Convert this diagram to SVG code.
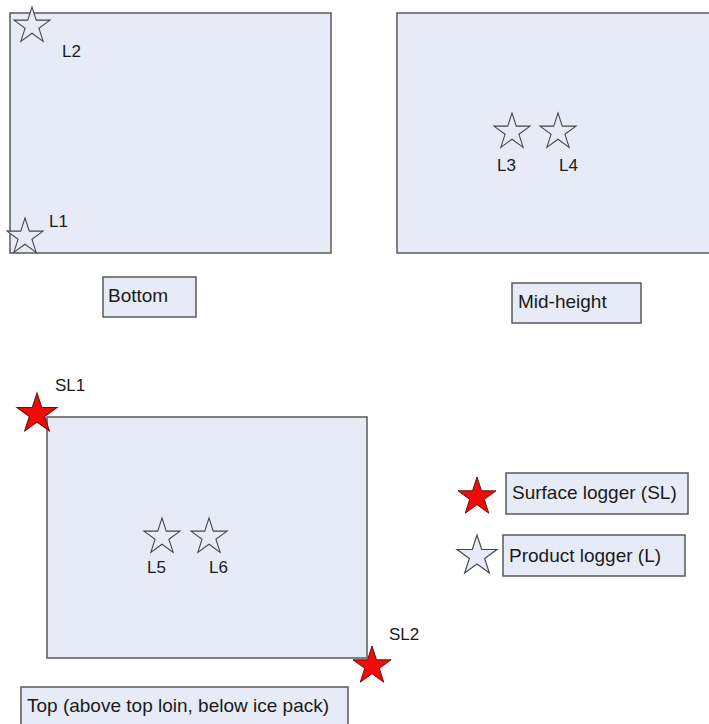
<svg xmlns="http://www.w3.org/2000/svg" xmlns:xlink="http://www.w3.org/1999/xlink" width="709" height="724" viewBox="0 0 709 724">
<style>
.panel{fill:#E7EBF7;stroke:#5a5a5a;stroke-width:1.5}
.box{fill:#E7EBF7;stroke:#5a5a5a;stroke-width:1.5}
.wstar{fill:#E7EBF7;stroke:#454545;stroke-width:1.1}
.rstar{fill:#F00A0A;stroke:#6a1010;stroke-width:1}
.lbl{font-family:"Liberation Sans",Arial,sans-serif;font-size:17px;fill:#1a1a1a}
.txt{font-family:"Liberation Sans",Arial,sans-serif;font-size:19px;fill:#1a1a1a}
</style>
<defs>
<polygon id="star" points="0,-20 4.49,-6.18 19.02,-6.18 7.27,2.36 11.76,16.18 0,7.64 -11.76,16.18 -7.27,2.36 -19.02,-6.18 -4.49,-6.18"/>
</defs>
<g id="panel-bottom">
<rect class="panel" x="10" y="13" width="321" height="240"/>
<use href="#star" class="wstar" transform="translate(32,26) scale(0.95)"/>
<text class="lbl" x="62" y="57">L2</text>
<use href="#star" class="wstar" transform="translate(25,237) scale(0.95)"/>
<text class="lbl" x="49" y="227">L1</text>
</g>
<g id="panel-mid">
<rect class="panel" x="397" y="13" width="315" height="240"/>
<use href="#star" class="wstar" transform="translate(512,132) scale(0.95)"/>
<use href="#star" class="wstar" transform="translate(558,132) scale(0.95)"/>
<text class="lbl" x="497" y="171">L3</text>
<text class="lbl" x="559" y="171">L4</text>
</g>
<g id="label-bottom">
<rect class="box" x="103" y="277" width="93" height="40"/>
<text class="txt" x="108" y="302">Bottom</text>
</g>
<g id="label-mid">
<rect class="box" x="512" y="283" width="129" height="40"/>
<text class="txt" x="518" y="308">Mid-height</text>
</g>
<g id="panel-top">
<rect class="panel" x="47" y="417" width="320" height="241"/>
<use href="#star" class="wstar" transform="translate(162,537) scale(0.95)"/>
<use href="#star" class="wstar" transform="translate(209,537) scale(0.95)"/>
<text class="lbl" x="147" y="573">L5</text>
<text class="lbl" x="209" y="573">L6</text>
<use href="#star" class="rstar" transform="translate(37,414) scale(1.05)"/>
<text class="lbl" x="55" y="391">SL1</text>
<use href="#star" class="rstar" transform="translate(372,666)"/>
<text class="lbl" x="389" y="640">SL2</text>
</g>
<g id="label-top">
<rect class="box" x="21" y="687" width="327" height="45"/>
<text class="txt" x="27" y="712">Top (above top loin, below ice pack)</text>
</g>
<g id="legend-surface">
<use href="#star" class="rstar" transform="translate(477,497)"/>
<rect class="box" x="506" y="473" width="182" height="41"/>
<text class="txt" x="512" y="499">Surface logger (SL)</text>
</g>
<g id="legend-product">
<use href="#star" class="wstar" transform="translate(477,556) scale(1.05)"/>
<rect class="box" x="503" y="535" width="182" height="41"/>
<text class="txt" x="509" y="562">Product logger (L)</text>
</g>
</svg>
